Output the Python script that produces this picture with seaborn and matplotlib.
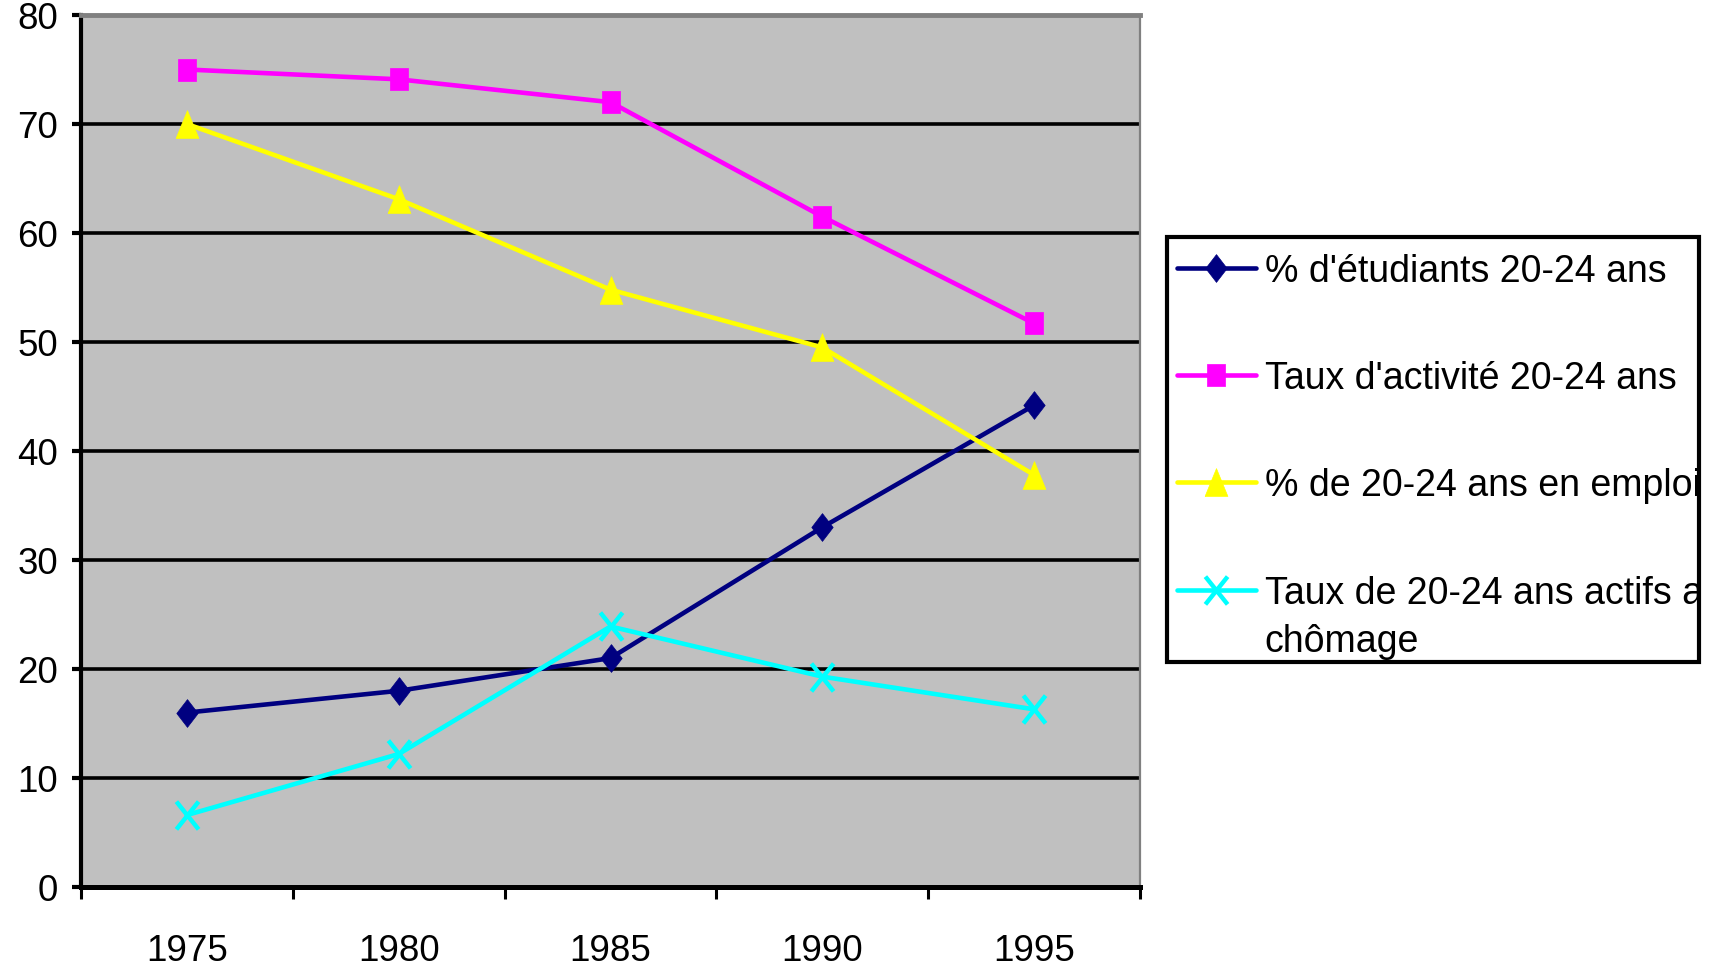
import matplotlib
matplotlib.use("Agg")
import matplotlib.pyplot as plt
import seaborn as sns
from matplotlib.path import Path
from matplotlib.patches import Rectangle

# Data
years = [1975, 1980, 1985, 1990, 1995]
etudiants = [16, 18, 21, 33, 44.2]
activite = [75, 74.1, 72, 61.5, 51.7]
emploi = [70, 63.1, 54.8, 49.5, 37.8]
chomage = [6.6, 12.2, 23.9, 19.3, 16.3]

labels = ["% d'étudiants 20-24 ans",
          "Taux d'activité 20-24 ans",
          "% de 20-24 ans en emploi",
          "Taux de 20-24 ans actifs au"]
label_cont = "chômage"
colors = ["#000080", "#FF00FF", "#FFFF00", "#00FFFF"]

sns.set_style("white")
plt.rcParams["font.family"] = ["Liberation Sans", "DejaVu Sans"]
plt.rcParams["text.color"] = "black"
plt.rcParams["xtick.color"] = "black"
plt.rcParams["ytick.color"] = "black"

# Excel-like markers, a bit taller than wide
diamond = [(0, -1), (0.77, 0), (0, 1), (-0.77, 0), (0, -1)]
square = [(-0.82, -1), (0.82, -1), (0.82, 1), (-0.82, 1), (-0.82, -1)]
triangle = [(-0.82, -1), (0.82, -1), (0, 1), (-0.82, -1)]
cross = Path([(-0.8, -1), (0.8, 1), (-0.8, 1), (0.8, -1)],
             [Path.MOVETO, Path.LINETO, Path.MOVETO, Path.LINETO])

fig = plt.figure(figsize=(17.12, 9.70), dpi=100)
ax = fig.add_axes([81 / 1712, 82 / 970, 1059 / 1712, 872 / 970])
ax.set_facecolor("#C0C0C0")

series = [etudiants, activite, emploi, chomage]
marks = [(diamond, 20), (square, 16.5), (triangle, 20), (cross, 20)]
for vals, col, (mk, ms) in zip(series, colors, marks):
    if mk is cross:
        sns.lineplot(x=years, y=vals, ax=ax, color=col, linewidth=3.3,
                     marker=mk, markersize=ms, markerfacecolor="none",
                     markeredgecolor=col, markeredgewidth=3.2, legend=False)
    else:
        sns.lineplot(x=years, y=vals, ax=ax, color=col, linewidth=3.3,
                     marker=mk, markersize=ms, markerfacecolor=col,
                     markeredgecolor=col, markeredgewidth=0.5, legend=False)

ax.set_xlim(1972.5, 1997.5)
ax.set_ylim(0, 80)
ax.set_yticks(range(0, 81, 10))
ax.set_xticks(years)
ax.set_xticks([1972.5 + 5 * i for i in range(6)], minor=True)
ax.set_xlabel("")
ax.set_ylabel("")

ax.grid(axis="y", color="black", linewidth=2.6)
ax.set_axisbelow(True)
gl = ax.yaxis.get_gridlines()
gl[0].set_visible(False)
gl[-1].set_visible(False)

ax.tick_params(axis="y", which="major", left=True, length=6.5, width=3,
               direction="out", pad=10, labelsize=26.5, color="black",
               labelcolor="black")
ax.tick_params(axis="x", which="major", bottom=True, length=0, pad=33,
               labelsize=26.5, labelcolor="black")
ax.tick_params(axis="x", which="minor", bottom=True, length=8.5, width=2.2,
               direction="out", color="black")

ax.spines["left"].set_color("black")
ax.spines["left"].set_linewidth(3)
ax.spines["bottom"].set_color("black")
ax.spines["bottom"].set_linewidth(3.6)
ax.spines["top"].set_color("#808080")
ax.spines["top"].set_linewidth(3.5)
ax.spines["right"].set_color("#808080")
ax.spines["right"].set_linewidth(1.6)
for s in ["top", "right"]:
    ax.spines[s].set_visible(True)

# Legend box (text running past its right edge is cut, as in the original)
box = Rectangle((1167 / 1712, 1 - 663 / 970), 532 / 1712, 425 / 970,
                transform=fig.transFigure, facecolor="white",
                edgecolor="black", linewidth=3, zorder=1)
fig.add_artist(box)

leg = fig.legend(handles=ax.lines[:4], labels=labels, loc="upper left",
                 bbox_to_anchor=(1177 / 1712, 1 - 254 / 970),
                 bbox_transform=fig.transFigure, frameon=False,
                 fontsize=27, borderpad=0, borderaxespad=0,
                 labelspacing=1.9, handlelength=2.1, handletextpad=0.24)
for t in leg.get_texts():
    t.set_color("black")
    t.set_clip_path(box)

# second line of the last legend entry, under its first line
fig.canvas.draw()
last = leg.get_texts()[-1].get_window_extent()
inv = fig.transFigure.inverted()
x0, y0 = inv.transform((last.x0, last.y0 - 12))
cont = fig.text(x0, y0, label_cont, fontsize=27, ha="left", va="top",
                color="black")
cont.set_clip_path(box)

fig.savefig("out.png", dpi=100)
